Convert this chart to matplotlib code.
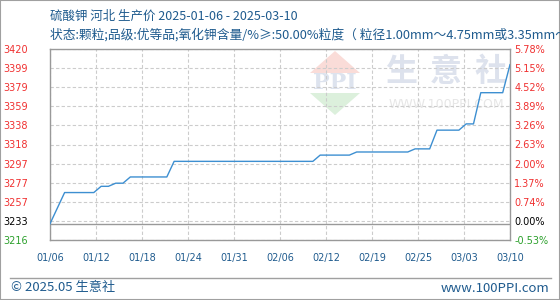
import matplotlib
matplotlib.use("Agg")
import matplotlib.pyplot as plt
import numpy as np
import pandas as pd
from matplotlib.lines import Line2D
from matplotlib.patches import Polygon, Rectangle

plt.rcParams["font.family"] = ["DejaVu Sans", "Noto Sans CJK SC"]

TITLE = "硫酸钾 河北 生产价 2025-01-06 - 2025-03-10"
SUBTITLE = "状态:颗粒;品级:优等品;氧化钾含量/%≥:50.00%粒度（ 粒径1.00mm～4.75mm或3.35mm～5.60mm）"

START = "2025-01-06"
DATES = [
    "2025-01-06", "2025-01-08", "2025-01-12", "2025-01-13", "2025-01-14",
    "2025-01-15", "2025-01-16", "2025-01-17", "2025-01-22", "2025-01-23",
    "2025-02-11", "2025-02-12", "2025-02-16", "2025-02-17", "2025-02-24",
    "2025-02-25", "2025-02-27", "2025-02-28", "2025-03-03", "2025-03-04",
    "2025-03-05", "2025-03-06", "2025-03-09", "2025-03-10",
]
PRICES = [
    3233.33, 3266.67, 3266.67, 3273.33, 3273.33,
    3276.67, 3276.67, 3283.33, 3283.33, 3300.00,
    3300.00, 3306.67, 3306.67, 3310.00, 3310.00,
    3313.33, 3313.33, 3333.33, 3333.33, 3340.00,
    3340.00, 3373.33, 3373.33, 3403.33,
]
BASE = 3233

X_LABELS = ["01/06", "01/12", "01/18", "01/24", "01/31", "02/06",
            "02/12", "02/19", "02/25", "03/03", "03/10"]
Y_MIN, Y_MAX = 3216, 3420
Y_LABELS = ["3216", "3233", "3257", "3277", "3297", "3318",
            "3338", "3359", "3379", "3399", "3420"]
PCT_LABELS = ["-0.53%", "0.00%", "0.74%", "1.37%", "2.00%", "2.63%",
              "3.26%", "3.89%", "4.52%", "5.15%", "5.78%"]

W, H = 560, 300
BLUE_TEXT = "#1f5b8e"
RED = "#f03030"
GREEN = "#2ca02c"


def fx(x):
    return x / W


def fy(y):
    return 1 - y / H


days = (pd.to_datetime(DATES) - pd.Timestamp(START)).days.to_numpy()
span = (pd.Timestamp(DATES[-1]) - pd.Timestamp(START)).days

fig = plt.figure(figsize=(W / 100, H / 100), dpi=100)
ax = fig.add_axes([fx(50), fy(240), 460 / W, 191 / H])

ax.plot(days, PRICES, color="#3d8fd1", lw=1.0, zorder=3)
ax.axhline(BASE, color="#999999", lw=1.0, zorder=2)

xt = np.linspace(0, span, len(X_LABELS))
yt = np.linspace(Y_MIN, Y_MAX, len(Y_LABELS))
ax.set_xlim(0, span)
ax.set_ylim(Y_MIN, Y_MAX)
ax.set_xticks(xt)
ax.set_xticklabels(X_LABELS, fontsize=7, color=BLUE_TEXT)
ax.set_yticks(yt)
ax.set_yticklabels(Y_LABELS, fontsize=7)
ax.tick_params(axis="x", length=0, pad=9)
ax.tick_params(axis="y", length=0, pad=16)
ax.set_axisbelow(True)
ax.grid(True, color="#cccccc", ls=(0, (3, 2)), lw=0.8)
for s in ax.spines.values():
    s.set_color("#999999")
    s.set_linewidth(1.0)

ax2 = ax.twinx()
ax2.set_ylim(Y_MIN, Y_MAX)
ax2.set_yticks(yt)
ax2.set_yticklabels(PCT_LABELS, fontsize=7)
ax2.tick_params(axis="y", length=0, pad=3)
for s in ax2.spines.values():
    s.set_visible(False)

for axis in (ax, ax2):
    labels = axis.get_yticklabels()
    for i, lab in enumerate(labels):
        lab.set_color(GREEN if i == 0 else ("black" if i == 1 else RED))

# watermark
tf = fig.transFigure
ax.add_patch(Polygon([(fx(335), fy(51)), (fx(310), fy(73)), (fx(360), fy(73))],
                     closed=True, transform=tf, fc="#fadcd8", ec="none", zorder=0.2))
ax.add_patch(Polygon([(fx(310), fy(93)), (fx(360), fy(93)), (fx(335), fy(115))],
                     closed=True, transform=tf, fc="#dcf0dc", ec="none", zorder=0.2))
ax.text(fx(335), fy(83), "PPI", transform=tf, ha="center", va="center",
        fontsize=16, fontweight="bold", color="#dde3ee", family="DejaVu Serif", zorder=0.2)
for cx, ch in zip([401, 446, 491], "生意社"):
    ax.text(fx(cx), fy(72), ch, transform=tf, ha="center", va="center",
            fontsize=23, fontweight="bold", color="#dde2ed",
            family="Noto Sans CJK SC", zorder=0.2)
ax.text(fx(446), fy(105), "WWW.100PPI.COM", transform=tf, ha="center", va="center",
        fontsize=9, color="#e6e6e6", zorder=0.2)

# titles
fig.text(fx(50), fy(16), TITLE, fontsize=9, color=BLUE_TEXT,
         family=["Noto Sans CJK SC", "DejaVu Sans"], va="center")
fig.text(fx(50), fy(35), SUBTITLE, fontsize=9.2, color=BLUE_TEXT,
         family=["Noto Sans CJK SC", "DejaVu Sans"], va="center")

# footer
fig.add_artist(Line2D([fx(10), fx(551)], [fy(277.5), fy(277.5)], color="#a0a0a0", lw=1.0))
fig.text(fx(11), fy(288), "© 2025.05 生意社", fontsize=9.5, color=BLUE_TEXT,
         family=["Noto Sans CJK SC", "DejaVu Sans"], va="center")
fig.text(fx(549), fy(288), "www.100PPI.com", fontsize=9.5, color=BLUE_TEXT,
         family=["Noto Sans CJK SC", "DejaVu Sans"], va="center", ha="right")
fig.add_artist(Rectangle((0, 0), 1, 1, transform=tf, fill=False, ec="#a0a0a0", lw=1.5))

fig.savefig("out.png", dpi=100)
